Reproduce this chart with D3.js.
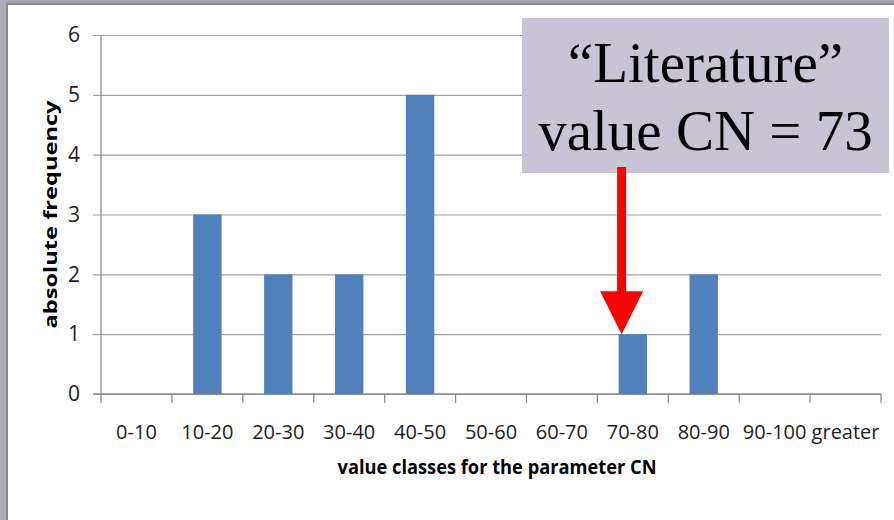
<!DOCTYPE html>
<html>
<head>
<meta charset="utf-8">
<script src="https://cdn.jsdelivr.net/npm/d3@7"></script>
<style>
  body { margin: 0; background: #fff; }
  svg { display: block; }
</style>
</head>
<body>
<svg></svg>
<script>
// CN histogram

var categories = ["0-10", "10-20", "20-30", "30-40", "40-50", "50-60",
                  "60-70", "70-80", "80-90", "90-100", "greater"];
var frequencies = [0, 3, 2, 2, 5, 0, 0, 1, 2, 0, 0];
var yTicks = [0, 1, 2, 3, 4, 5, 6];
var noteLines = ["\u201CLiterature\u201D", "value CN = 73"];
var literatureCN = 73;
var cnDomain = [0, 110];

var width = 894, height = 520;
var plot = {left: 101, right: 881, top: 35, bottom: 394};

var svg = d3.select("svg")
    .attr("width", width)
    .attr("height", height);

// slide frame
svg.append("rect").attr("width", width).attr("height", height).attr("fill", "#fff");
svg.append("rect").attr("x", 0).attr("y", 0).attr("width", width).attr("height", 3).attr("fill", "#a4a4ad");
svg.append("rect").attr("x", 6).attr("y", 3).attr("width", width - 6).attr("height", 2).attr("fill", "#888890");
svg.append("rect").attr("x", 0).attr("y", 0).attr("width", 6).attr("height", height).attr("fill", "#adadb6");
svg.append("rect").attr("x", 6).attr("y", 3).attr("width", 2).attr("height", height).attr("fill", "#8a8a90");

var xScale = d3.scaleBand()
    .domain(categories)
    .range([plot.left, plot.right])
    .paddingInner(0.6)
    .paddingOuter(0.3);

var yScale = d3.scaleLinear()
    .domain([0, 6])
    .range([plot.bottom, plot.top]);

var cnScale = d3.scaleLinear()
    .domain(cnDomain)
    .range([plot.left, plot.right]);

// y axis with gridlines
var y_axis = d3.axisLeft(yScale)
    .tickValues(yTicks)
    .tickFormat(d3.format("d"))
    .tickSizeInner(-(plot.right - plot.left))
    .tickSizeOuter(0)
    .tickPadding(21);

var gy = svg.append("g")
    .attr("transform", "translate(" + plot.left + ",0)")
    .call(y_axis);
gy.select(".domain").remove();
gy.selectAll(".tick line")
    .attr("x1", -8)
    .attr("stroke", "#a0a0a0")
    .attr("stroke-width", 1.2);
gy.selectAll(".tick text")
    .attr("font-family", "'Open Sans', sans-serif")
    .attr("font-size", 21)
    .attr("fill", "#222");

// x axis labels
var x_axis = d3.axisBottom(xScale).tickSize(0).tickPadding(31);
var gx = svg.append("g")
    .attr("transform", "translate(0," + plot.bottom + ")")
    .call(x_axis);
gx.select(".domain").remove();
gx.selectAll(".tick text")
    .attr("font-family", "'Open Sans', sans-serif")
    .attr("font-size", 20)
    .attr("fill", "#222");

// axis lines and category boundary ticks
svg.append("line")
    .attr("x1", plot.left).attr("x2", plot.left)
    .attr("y1", yScale(6)).attr("y2", plot.bottom)
    .attr("stroke", "#8c8c8c").attr("stroke-width", 1.3);
svg.append("line")
    .attr("x1", plot.left - 8).attr("x2", plot.right)
    .attr("y1", plot.bottom).attr("y2", plot.bottom)
    .attr("stroke", "#8c8c8c").attr("stroke-width", 1.3);
svg.append("g")
    .selectAll("line")
    .data(d3.range(categories.length + 1))
    .enter()
    .append("line")
    .attr("x1", function(i) { return plot.left + i * xScale.step(); })
    .attr("x2", function(i) { return plot.left + i * xScale.step(); })
    .attr("y1", plot.bottom)
    .attr("y2", plot.bottom + 9)
    .attr("stroke", "#8c8c8c")
    .attr("stroke-width", 1.3);

// bars
svg.append("g")
    .selectAll("rect")
    .data(frequencies)
    .enter()
    .append("rect")
    .attr("x", function(d, i) { return xScale(categories[i]); })
    .attr("y", function(d) { return yScale(d); })
    .attr("width", xScale.bandwidth())
    .attr("height", function(d) { return yScale(0) - yScale(d); })
    .attr("fill", "#4f81bd");

// axis titles
svg.append("text")
    .attr("transform", "translate(50," + (plot.top + plot.bottom) / 2 + ") rotate(-90)")
    .attr("text-anchor", "middle")
    .attr("dominant-baseline", "central")
    .attr("font-family", "'Open Sans', sans-serif")
    .attr("font-weight", "bold")
    .attr("font-size", 18)
    .attr("textLength", 228)
    .attr("lengthAdjust", "spacingAndGlyphs")
    .text("absolute frequency");

svg.append("text")
    .attr("x", 497)
    .attr("y", 474)
    .attr("text-anchor", "middle")
    .attr("font-family", "'Open Sans', sans-serif")
    .attr("font-weight", "bold")
    .attr("font-size", 20)
    .attr("textLength", 319)
    .attr("lengthAdjust", "spacingAndGlyphs")
    .text("value classes for the parameter CN");

// annotation box
var box = {x: 522, y: 18, w: 367, h: 155};
svg.append("rect")
    .attr("x", box.x).attr("y", box.y)
    .attr("width", box.w).attr("height", box.h)
    .attr("fill", "#c9c4d4");

svg.append("g")
    .selectAll("text")
    .data(noteLines)
    .enter()
    .append("text")
    .attr("x", box.x + box.w / 2)
    .attr("y", function(d, i) { return 82 + i * 68; })
    .attr("text-anchor", "middle")
    .attr("font-family", "'Liberation Serif', serif")
    .attr("font-size", 57)
    .attr("fill", "#000")
    .text(function(d) { return d; });

// red arrow to the literature value
var tipX = cnScale(literatureCN) + 3,
    tipY = yScale(1);
svg.append("rect")
    .attr("x", tipX - 4.5)
    .attr("y", box.y + box.h - 6)
    .attr("width", 9)
    .attr("height", tipY - 43 - (box.y + box.h - 6) + 1)
    .attr("fill", "#ff0000");
svg.append("path")
    .attr("d", "M" + (tipX - 21.5) + "," + (tipY - 43) +
               "L" + (tipX + 21.5) + "," + (tipY - 43) +
               "L" + tipX + "," + tipY + "Z")
    .attr("fill", "#ff0000");
</script>
</body>
</html>
